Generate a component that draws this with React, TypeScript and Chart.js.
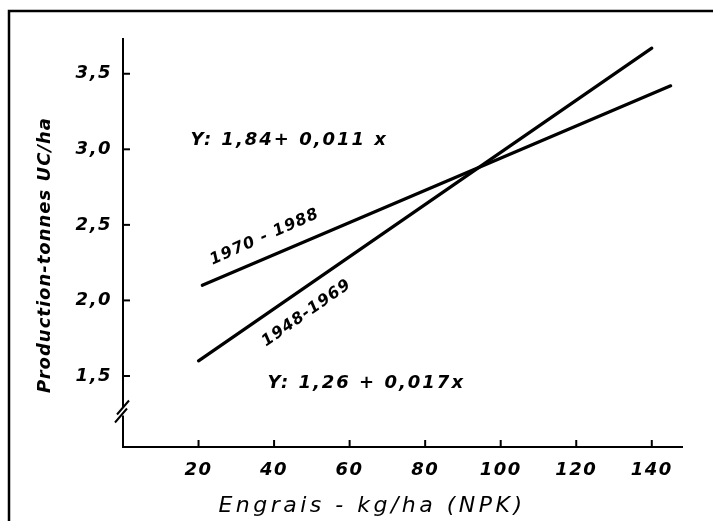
import React, { useEffect, useRef } from "react";
import { Chart, registerables } from "chart.js";

Chart.register(...registerables);

// ---- data ----
const xTickValues = [20, 40, 60, 80, 100, 120, 140];
const yTickValues = [1.5, 2.0, 2.5, 3.0, 3.5];

const periodA = "1948-1969";
const periodAX = [20, 140];
const periodAY = [1.6, 3.67];

const periodB = "1970 - 1988";
const periodBX = [21, 145];
const periodBY = [2.1, 3.42];

const equationA = "Y: 1,26 + 0,017x";
const equationB = "Y: 1,84+ 0,011 x";

const xTitle = "Engrais - kg/ha (NPK)";
const yTitle = "Production-tonnes UC/ha";

const xMin = 0;
const xMax = 148;
const yMin = 1.03;
const yMax = 3.73;
const yBreakValue = 1.265;

const FAMILY = '"DejaVu Sans", sans-serif';

const decorPlugin = {
  id: "decor",
  beforeDraw(chart: any) {
    const ctx = chart.ctx;
    ctx.save();
    ctx.fillStyle = "#fff";
    ctx.fillRect(0, 0, chart.width, chart.height);
    ctx.strokeStyle = "#000";
    ctx.lineWidth = 2.5;
    ctx.beginPath();
    ctx.moveTo(9, chart.height);
    ctx.lineTo(9, 11);
    ctx.lineTo(chart.width + 5, 11);
    ctx.stroke();
    ctx.restore();
    ctx.letterSpacing = "1.5px";
  },
  afterDraw(chart: any) {
    const { ctx, chartArea, scales } = chart;
    const xs = scales.x;
    const ys = scales.y;
    ctx.save();
    ctx.strokeStyle = "#000";
    ctx.fillStyle = "#000";
    ctx.lineWidth = 2;
    ctx.lineCap = "butt";
    // inward tick marks
    xTickValues.forEach((v) => {
      const px = xs.getPixelForValue(v);
      ctx.beginPath();
      ctx.moveTo(px, chartArea.bottom);
      ctx.lineTo(px, chartArea.bottom - 7);
      ctx.stroke();
    });
    yTickValues.forEach((v) => {
      const py = ys.getPixelForValue(v);
      ctx.beginPath();
      ctx.moveTo(chartArea.left, py);
      ctx.lineTo(chartArea.left + 7, py);
      ctx.stroke();
    });
    // axis break
    const bx = chartArea.left;
    const by = ys.getPixelForValue(yBreakValue);
    ctx.fillStyle = "#fff";
    ctx.fillRect(bx - 3, by - 4, 6, 8);
    ctx.beginPath();
    ctx.moveTo(bx - 6, by + 3);
    ctx.lineTo(bx + 6, by - 11);
    ctx.moveTo(bx - 8, by + 11);
    ctx.lineTo(bx + 4, by - 3);
    ctx.stroke();

    // texts
    ctx.fillStyle = "#000";
    ctx.textAlign = "center";
    ctx.textBaseline = "middle";
    ctx.letterSpacing = "2px";
    ctx.font = `italic 600 18px ${FAMILY}`;
    ctx.fillText(equationB, xs.getPixelForValue(44), ys.getPixelForValue(3.06));
    ctx.fillText(equationA, xs.getPixelForValue(64.4), ys.getPixelForValue(1.45));

    ctx.font = `italic 600 16px ${FAMILY}`;
    ctx.letterSpacing = "1px";
    ctx.save();
    ctx.translate(xs.getPixelForValue(37.5), ys.getPixelForValue(2.42));
    ctx.rotate((-24 * Math.PI) / 180);
    ctx.fillText(periodB, 0, 0);
    ctx.restore();
    ctx.save();
    ctx.translate(xs.getPixelForValue(48.6), ys.getPixelForValue(1.915));
    ctx.rotate((-35 * Math.PI) / 180);
    ctx.fillText(periodA, 0, 0);
    ctx.restore();

    // axis titles
    ctx.letterSpacing = "1px";
    ctx.font = `italic 600 18px ${FAMILY}`;
    ctx.save();
    ctx.translate(45, 255);
    ctx.rotate(-Math.PI / 2);
    ctx.fillText(yTitle, 0, 0);
    ctx.restore();

    ctx.letterSpacing = "3.5px";
    ctx.font = `italic 400 22px ${FAMILY}`;
    ctx.fillText(xTitle, 372, 506);
    ctx.restore();
  },
};

export default function App() {
  const canvasRef = useRef<HTMLCanvasElement | null>(null);

  useEffect(() => {
    if (!canvasRef.current) return;
    const tickFont = { family: FAMILY, size: 18, style: "italic" as const, weight: "bold" as const };
    const chart = new Chart(canvasRef.current, {
      type: "scatter",
      data: {
        datasets: [
          {
            label: periodA,
            data: periodAX.map((x, i) => ({ x, y: periodAY[i] })),
            showLine: true,
            borderColor: "#000",
            borderWidth: 3.2,
            pointRadius: 0,
            borderCapStyle: "round",
          },
          {
            label: periodB,
            data: periodBX.map((x, i) => ({ x, y: periodBY[i] })),
            showLine: true,
            borderColor: "#000",
            borderWidth: 3.2,
            pointRadius: 0,
            borderCapStyle: "round",
          },
        ],
      },
      options: {
        animation: false,
        responsive: true,
        maintainAspectRatio: false,
        layout: { padding: { top: 39, right: 31, left: 0, bottom: 0 } },
        plugins: {
          legend: { display: false },
          tooltip: { enabled: false },
          title: { display: false },
        },
        scales: {
          x: {
            type: "linear",
            min: xMin,
            max: xMax,
            afterBuildTicks: (s: any) => {
              s.ticks = xTickValues.map((v) => ({ value: v }));
            },
            afterFit: (s: any) => {
              s.height = 74;
            },
            grid: { display: true, drawOnChartArea: false, drawTicks: false },
            border: { display: true, color: "#000", width: 2 },
            ticks: {
              color: "#000",
              font: tickFont,
              padding: 13,
              autoSkip: false,
              maxRotation: 0,
              callback: (v: any) => String(v),
            },
          },
          y: {
            type: "linear",
            min: yMin,
            max: yMax,
            afterBuildTicks: (s: any) => {
              s.ticks = yTickValues.map((v) => ({ value: v }));
            },
            afterFit: (s: any) => {
              s.width = 123;
            },
            grid: { display: true, drawOnChartArea: false, drawTicks: false },
            border: { display: true, color: "#000", width: 2 },
            ticks: {
              color: "#000",
              font: tickFont,
              padding: 11,
              autoSkip: false,
              callback: (v: any) => Number(v).toFixed(1).replace(".", ","),
            },
          },
        },
      },
      plugins: [decorPlugin],
    } as any);
    return () => chart.destroy();
  }, []);

  return (
    <div style={{ position: "fixed", left: 0, top: 0, width: 713, height: 521 }}>
      <canvas ref={canvasRef} />
    </div>
  );
}
